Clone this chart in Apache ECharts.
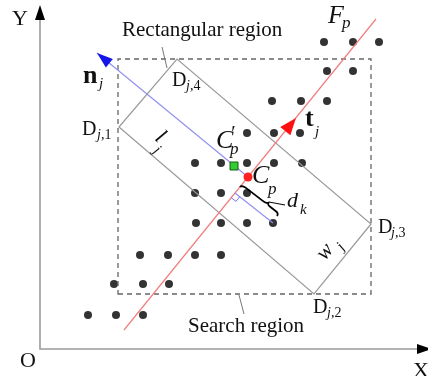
<!DOCTYPE html>
<html><head><meta charset="utf-8">
<script src="https://cdn.jsdelivr.net/npm/echarts@6/dist/echarts.min.js"></script>
<style>html,body{margin:0;padding:0;background:#fff}#c{width:428px;height:376px}</style>
</head><body><div id="c"></div>
<script>
// ---- values (data units, origin O) ----
const axisMaxX = 388, axisMaxY = 344;
const dotX = [48,76,103, 74,103,129, 100,128,155,181, 156,181,207,233, 155,181,207, 155,181,207,234,262, 207,234,260, 232,261,287, 287,313, 284,313,339];
const dotY = [34,34,34, 65,65,65, 94,94,94,94, 126,126,126,126, 156,156,156, 186,186,186,186,186, 216,216,216, 248,248,248, 278,278, 307,307,307];
const searchX = [78, 331];
const searchY = [55, 290];
// rectangle corners D1, D2, D3, D4
const rectX = [79, 274, 331, 137];
const rectY = [222, 55, 125, 290];
const fpX = [84, 336];
const fpY = [19, 330];
const njX = [57, 208];
const njY = [296, 172];
const cpPoint = [208, 172];
const cpPrimePoint = [194, 183];
const tjTip = [256, 231];
const perpX = [195, 233];
const perpY = [156, 126];
const braceX = [200, 229, 237];
const braceY = [162, 147, 133];
const leaderRect = [[122, 302], [127, 281]];
const leaderSearch = [[199, 54], [204, 35]];
const leaderDk = [[229, 147], [245, 144]];

const SERIF = '"Liberation Serif","Times New Roman",serif';
const sub = (a, b) => '{i|' + a + '}{r|' + b + '}';
const labels = [
  {t:'Y', p:[-20,330], f:'22px', a:'center'},
  {t:'O', p:[-12,-12], f:'22px', a:'center'},
  {t:'X', p:[381,-22], f:'22px', a:'center'},
  {t:'Rectangular region', p:[82,319], f:'21px'},
  {t:'Search region', p:[148,23], f:'21px'},
  {t:'F', p:[288,333], f:'italic 26px'},
  {t:'p', p:[302,325], f:'italic 17px'},
  {t:'n', p:[43,273], f:'bold 26px'},
  {t:'j', p:[59,265], f:'italic 15px'},
  {t:'D', p:[132,268], f:'20px'},
  {rich:['j',',4'], p:[146,263]},
  {t:'D', p:[42,219], f:'20px'},
  {rich:['j',',1'], p:[57,214]},
  {t:'l', p:[120,212], f:'italic 22px', a:'center', r:-40},
  {t:'j', p:[117,199], f:'italic 15px', a:'center', r:-40},
  {t:'C', p:[176,208], f:'italic 26px'},
  {t:'\u2032', p:[190,214], f:'italic 20px'},
  {t:'p', p:[190,199], f:'italic 17px'},
  {t:'C', p:[212,173], f:'italic 26px'},
  {t:'p', p:[228,159], f:'italic 17px'},
  {t:'d', p:[247,148], f:'italic 22px'},
  {t:'k', p:[260,139], f:'italic 15px'},
  {t:'t', p:[265,230], f:'bold 26px'},
  {t:'j', p:[275,217], f:'italic 15px'},
  {t:'D', p:[338,121], f:'20px'},
  {rich:['j',',3'], p:[351,116]},
  {t:'w', p:[285,97], f:'italic 22px', a:'center', r:51},
  {t:'j', p:[301,102], f:'italic 15px', a:'center', r:51},
  {t:'D', p:[273,41], f:'20px'},
  {rich:['j',',2'], p:[287,36]}
];

function renderItem(params, api) {
  const c = (x, y) => api.coord([x, y]);
  const ch = [];
  const pl = (pts, style) => ({type:'polyline', shape:{points:pts}, style:Object.assign({fill:null}, style)});
  const arrowHead = (tip, from, len, hw, color) => {
    const dx = tip[0]-from[0], dy = tip[1]-from[1], L = Math.hypot(dx, dy);
    const ux = dx/L, uy = dy/L;
    const bx = tip[0]-ux*len, by = tip[1]-uy*len;
    return {type:'polygon', shape:{points:[tip, [bx-uy*hw, by+ux*hw], [bx+uy*hw, by-ux*hw]]}, style:{fill:color}};
  };
  // axes
  ch.push(pl([c(0, axisMaxY-12), c(0,0), c(axisMaxX-10,0)], {stroke:'#9a9a9a', lineWidth:1.6}));
  ch.push(arrowHead(c(0, axisMaxY), c(0,0), 15, 5, '#000'));
  ch.push(arrowHead(c(axisMaxX+4, 0), c(0,0), 15, 5, '#000'));
  // search region (dashed)
  ch.push({type:'polygon', shape:{points:[c(searchX[0],searchY[0]), c(searchX[1],searchY[0]), c(searchX[1],searchY[1]), c(searchX[0],searchY[1])]},
    style:{fill:null, stroke:'#666', lineWidth:1.3, lineDash:[5,4]}});
  // rectangular region
  ch.push({type:'polygon', shape:{points:rectX.map((x,i)=>c(x, rectY[i]))}, style:{fill:null, stroke:'#9a9a9a', lineWidth:1.2}});
  // leader lines
  ch.push(pl(leaderRect.map(p=>c(p[0],p[1])), {stroke:'#777', lineWidth:1}));
  ch.push(pl(leaderSearch.map(p=>c(p[0],p[1])), {stroke:'#777', lineWidth:1}));
  // F_p line
  const f0 = c(fpX[0], fpY[0]), f1 = c(fpX[1], fpY[1]);
  ch.push(pl([f0, f1], {stroke:'#f07f7f', lineWidth:1.2}));
  // n_j line
  const n0 = c(njX[0], njY[0]), n1 = c(njX[1], njY[1]);
  ch.push(pl([n0, n1], {stroke:'#8f8ff0', lineWidth:1.1}));
  ch.push(arrowHead(n0, n1, 16, 5.5, '#1515e8'));
  // t_j arrow
  ch.push(arrowHead(c(tjTip[0], tjTip[1]), f0, 17, 6.5, '#ff1010'));
  // perpendicular segment d_k
  const p0 = c(perpX[0], perpY[0]), p1 = c(perpX[1], perpY[1]);
  ch.push(pl([p0, p1], {stroke:'#8f8ff0', lineWidth:1.1}));
  // right-angle marker
  {
    const ux = (f1[0]-f0[0]), uy = (f1[1]-f0[1]), Lu = Math.hypot(ux,uy);
    const wx = p1[0]-p0[0], wy = p1[1]-p0[1], Lw = Math.hypot(wx,wy);
    const s = 6;
    const a = [p0[0]+wx/Lw*s, p0[1]+wy/Lw*s];
    const b = [a[0]-ux/Lu*s, a[1]-uy/Lu*s];
    const d = [p0[0]-ux/Lu*s, p0[1]-uy/Lu*s];
    ch.push(pl([a, b, d], {stroke:'#7070f0', lineWidth:1}));
  }
  // brace
  {
    const P = c(braceX[0], braceY[0]), C = c(braceX[1], braceY[1]), Q = c(braceX[2], braceY[2]);
    const dx = Q[0]-P[0], dy = Q[1]-P[1], L = Math.hypot(dx,dy), tx = dx/L, ty = dy/L;
    let nx = -ty, ny = tx;
    let sN = (C[0]-P[0])*nx + (C[1]-P[1])*ny;
    if (sN < 0) { nx = -nx; ny = -ny; sN = -sN; }
    const la = (C[0]-P[0])*tx + (C[1]-P[1])*ty, lb = L - la;
    const h = sN, hh = h/2;
    const Cf = [P[0]+tx*la, P[1]+ty*la];
    const pt = (base, along, off) => [base[0]+tx*along+nx*off, base[1]+ty*along+ny*off];
    const A1 = pt(P, la*0.25, hh), A2 = pt(Cf, -la*0.2, hh), CA = pt(Cf, 0, hh);
    const B2 = pt(Cf, lb*0.2, hh), B1 = pt(Q, -lb*0.25, hh);
    const cP = pt(P, 0, hh), cQ = pt(Q, 0, hh);
    const f = v => v[0].toFixed(1)+' '+v[1].toFixed(1);
    const d = 'M'+f(P)+' Q'+f(cP)+' '+f(A1)+' L'+f(A2)+' Q'+f(CA)+' '+f(C)+' Q'+f(CA)+' '+f(B2)+' L'+f(B1)+' Q'+f(cQ)+' '+f(Q);
    ch.push({type:'path', shape:{pathData:d}, style:{fill:null, stroke:'#000', lineWidth:1.8}});
    ch.push(pl(leaderDk.map(p=>c(p[0],p[1])), {stroke:'#000', lineWidth:1}));
  }
  // C_p and C'_p
  const cp = c(cpPoint[0], cpPoint[1]);
  ch.push({type:'circle', shape:{cx:cp[0], cy:cp[1], r:4.5}, style:{fill:'#ff2222'}});
  const cq = c(cpPrimePoint[0], cpPrimePoint[1]);
  ch.push({type:'rect', shape:{x:cq[0]-4, y:cq[1]-4, width:8, height:8}, style:{fill:'#33cc33', stroke:'#1a5a1a', lineWidth:1}});
  // labels
  labels.forEach(l => {
    const p = c(l.p[0], l.p[1]);
    const el = {type:'text', x:p[0], y:p[1], rotation:(l.r||0)*Math.PI/180, style:{x:0, y:0, fill:'#111', align:l.a||'left', verticalAlign:'middle'}};
    if (l.rich) {
      el.style.text = sub(l.rich[0], l.rich[1]);
      el.style.rich = {i:{fontStyle:'italic', fontSize:14, fontFamily:SERIF, fill:'#111'}, r:{fontSize:14, fontFamily:SERIF, fill:'#111'}};
    } else {
      el.style.text = l.t;
      el.style.font = l.f + ' ' + SERIF;
    }
    ch.push(el);
  });
  return {type:'group', children:ch};
}

const chart = echarts.init(document.getElementById('c'), null, {renderer:'canvas'});
chart.setOption({
  animation:false,
  backgroundColor:'#fff',
  grid:{left:40, right:0, top:5, bottom:27},
  xAxis:{type:'value', min:0, max:axisMaxX, show:false},
  yAxis:{type:'value', min:0, max:axisMaxY, show:false},
  series:[
    {type:'scatter', data:dotX.map((x,i)=>[x, dotY[i]]), symbolSize:8, itemStyle:{color:'#000'}, z:2, silent:true},
    {type:'custom', data:[[0,0]], renderItem:renderItem, z:3, clip:false, silent:true}
  ]
});
</script></body></html>
